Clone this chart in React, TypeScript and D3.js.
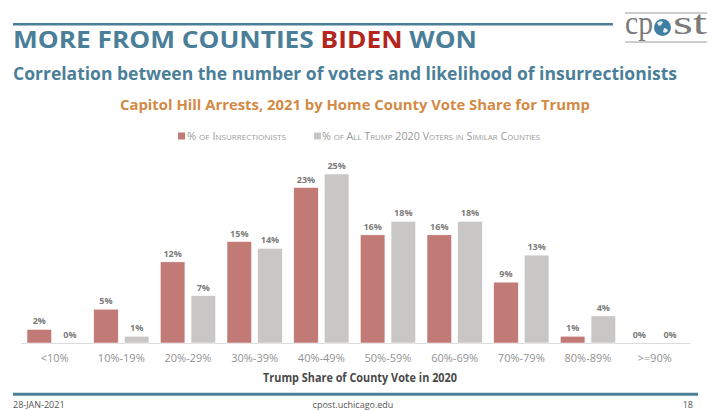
import React from "react";
import * as d3 from "d3";

const categories = ["<10%", "10%-19%", "20%-29%", "30%-39%", "40%-49%", "50%-59%", "60%-69%", "70%-79%", "80%-89%", ">=90%"];
const insurrectionists = [2, 5, 12, 15, 23, 16, 16, 9, 1, 0];
const trumpVoters = [0, 1, 7, 14, 25, 18, 18, 13, 4, 0];
const seriesNames = ["% of Insurrectionists", "% of All Trump 2020 Voters in Similar Counties"];
const seriesKeys = ["ins", "trump"];

const W = 713;
const H = 410;
const BLUE = "#4b7f99";
const RED_T = "#b3261e";
const ORANGE = "#d38a45";
const BAR_RED = "#c27a77";
const BAR_GREY = "#c9c7c5";
const FONT = "'Open Sans', 'DejaVu Sans', sans-serif";

export default function App() {
  const x0 = d3.scaleBand<string>().domain(categories).range([21.3, 688]).paddingInner(0).paddingOuter(0);
  const x1 = d3.scaleBand<string>().domain(seriesKeys).range([0, x0.step()]).paddingInner(0.2).paddingOuter(0.186);
  const y = d3.scaleLinear().domain([0, 25]).range([343, 174]);
  const colors = [BAR_RED, BAR_GREY];
  const data = [insurrectionists, trumpVoters];

  return (
    <svg width={W} height={H} style={{ position: "absolute", left: 0, top: 0, background: "#fff" }}>
      {/* header line */}
      <line x1={13} x2={613} y1={24.3} y2={24.3} stroke={BLUE} strokeWidth={2.5} />
      {/* logo */}
      <g>
        <line x1={625} x2={707} y1={13} y2={13} stroke="#9a9a9a" strokeWidth={1} />
        <line x1={625} x2={707} y1={42} y2={42} stroke="#9a9a9a" strokeWidth={1} />
        <text x={625} y={34} fontFamily="'Liberation Serif', 'DejaVu Serif', serif" fontSize={34} fill="#7a7a7a" textLength={28} lengthAdjust="spacingAndGlyphs">cp</text>
        <circle cx={662.5} cy={27.5} r={8.5} fill="#3f7fa3" />
        <path d="M657,23 q3,-3 6,-1 q-1,3 -4,4 z M664,28 q3,0 4,3 q-3,3 -5,1 z" fill="#e8eef2" />
        <text x={673} y={34} fontFamily="'Liberation Serif', 'DejaVu Serif', serif" fontSize={34} fill="#7a7a7a" textLength={34} lengthAdjust="spacingAndGlyphs">st</text>
      </g>
      {/* Title */}
      <text x={13} y={48.3} fontFamily={FONT} fontWeight={700} fontSize={23.5} fill={BLUE} textLength={464} lengthAdjust="spacingAndGlyphs">
        MORE FROM COUNTIES <tspan fill={RED_T}>BIDEN</tspan> WON
      </text>
      <text x={13} y={80} fontFamily={FONT} fontWeight={700} fontSize={18} fill={BLUE} textLength={664} lengthAdjust="spacingAndGlyphs">
        Correlation between the number of voters and likelihood of insurrectionists
      </text>
      <text x={120} y={110} fontFamily={FONT} fontWeight={700} fontSize={14} fill={ORANGE} textLength={470} lengthAdjust="spacingAndGlyphs">
        Capitol Hill Arrests, 2021 by Home County Vote Share for Trump
      </text>
      {/* legend */}
      <g fontFamily={FONT} fontSize={11} fill="#9a9a9a" style={{ fontVariant: "small-caps" }}>
        <rect x={178} y={132.5} width={7} height={7} fill={BAR_RED} />
        <text x={187} y={140} textLength={99} lengthAdjust="spacingAndGlyphs">{seriesNames[0]}</text>
        <rect x={314} y={132.5} width={7} height={7} fill={BAR_GREY} />
        <text x={322} y={140} textLength={218} lengthAdjust="spacingAndGlyphs">{seriesNames[1]}</text>
      </g>
      {/* baseline */}
      <line x1={21} x2={690} y1={343.5} y2={343.5} stroke="#dcdcdc" strokeWidth={1} />
      {/* bars */}
      {categories.map((c, i) => (
        <g key={c} transform={`translate(${x0(c)},0)`}>
          {seriesKeys.map((k, j) => {
            const v = data[j][i];
            const bx = x1(k) as number;
            const bw = x1.bandwidth();
            return (
              <g key={k}>
                {v > 0 && (
                  <rect x={bx} y={y(v)} width={bw} height={y(0) - y(v)} fill={colors[j]} stroke="#fff" strokeWidth={0.5} />
                )}
                <text x={bx + bw / 2} y={y(v) - 5} textAnchor="middle" fontFamily={FONT} fontWeight={700} fontSize={9} fill="#7c7c7c">
                  {v}%
                </text>
              </g>
            );
          })}
          <text x={x0.bandwidth() / 2} y={362} textAnchor="middle" fontFamily={FONT} fontWeight={400} fontSize={11} fill="#929292">
            {c}
          </text>
        </g>
      ))}
      {/* axis title */}
      <text x={263} y={382} fontFamily={FONT} fontWeight={700} fontSize={11.5} fill="#4a4a4a" textLength={194} lengthAdjust="spacingAndGlyphs">
        Trump Share of County Vote in 2020
      </text>
      {/* footer */}
      <line x1={13} x2={698} y1={394.3} y2={394.3} stroke={BLUE} strokeWidth={3} />
      <g fontFamily={FONT} fontSize={9} fill="#555">
        <text x={13} y={408}>28-JAN-2021</text>
        <text x={353} y={408} textAnchor="middle">cpost.uchicago.edu</text>
        <text x={693} y={408} textAnchor="end">18</text>
      </g>
    </svg>
  );
}
